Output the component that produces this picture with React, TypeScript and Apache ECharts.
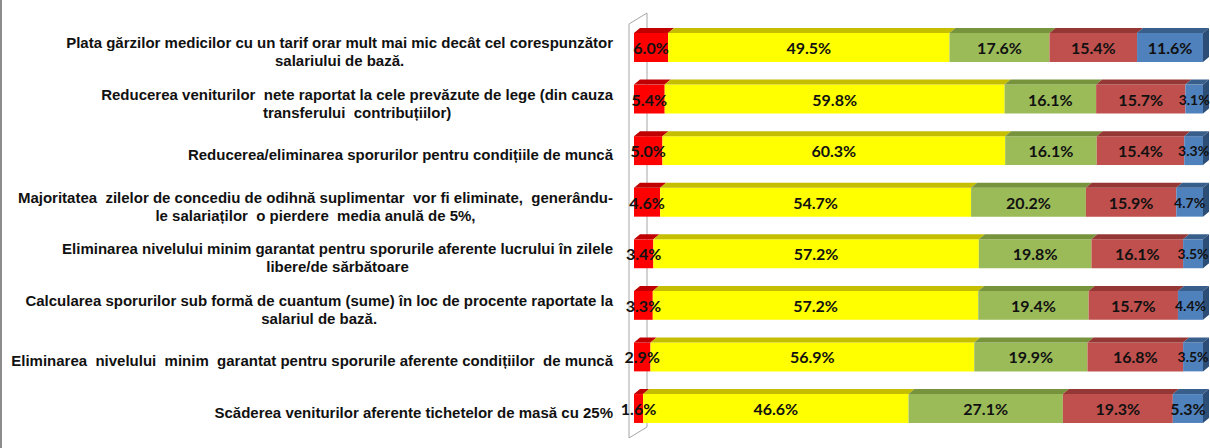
import React, { useEffect, useRef } from "react";
import * as echarts from "echarts";

const categories: string[][] = [
  ["Plata gărzilor medicilor cu un tarif orar mult mai mic decât cel corespunzător", "salariului de bază."],
  ["Reducerea veniturilor  nete raportat la cele prevăzute de lege (din cauza", "transferului  contribuțiilor)"],
  ["Reducerea/eliminarea sporurilor pentru condițiile de muncă"],
  ["Majoritatea  zilelor de concediu de odihnă suplimentar  vor fi eliminate,  generându-", "le salariaților  o pierdere  media anulă de 5%,"],
  ["Eliminarea nivelului minim garantat pentru sporurile aferente lucrului în zilele", "libere/de sărbătoare"],
  ["Calcularea sporurilor sub formă de cuantum (sume) în loc de procente raportate la", "salariul de bază."],
  ["Eliminarea  nivelului  minim  garantat pentru sporurile aferente condițiilor  de muncă"],
  ["Scăderea veniturilor aferente tichetelor de masă cu 25%"],
];

const seriesRed = [6.0, 5.4, 5.0, 4.6, 3.4, 3.3, 2.9, 1.6];
const seriesYellow = [49.5, 59.8, 60.3, 54.7, 57.2, 57.2, 56.9, 46.6];
const seriesGreen = [17.6, 16.1, 16.1, 20.2, 19.8, 19.4, 19.9, 27.1];
const seriesDarkRed = [15.4, 15.7, 15.4, 15.9, 16.1, 15.7, 16.8, 19.3];
const seriesBlue = [11.6, 3.1, 3.3, 4.7, 3.5, 4.4, 3.5, 5.3];

const allSeries = [seriesRed, seriesYellow, seriesGreen, seriesDarkRed, seriesBlue];
const frontColors = ["#FF0000", "#FFFF00", "#9BBB59", "#C0504D", "#4F81BD"];
const topColors = ["#C00000", "#C4BD00", "#77933C", "#953735", "#385E8C"];
const sideColor = "#2C4D75";

export default function App() {
  const ref = useRef<HTMLDivElement>(null);
  useEffect(() => {
    if (!ref.current) return;
    const chart = echarts.init(ref.current, null, { renderer: "svg" });
    const totals = categories.map((_, i) => allSeries.reduce((s, arr) => s + arr[i], 0));
    const dx = 6;
    const dy = 5;
    const series = allSeries.map((arr, si) => {
      const data = arr.map((v, i) => {
        let start = 0;
        for (let k = 0; k < si; k++) start += allSeries[k][i];
        const s = (start / totals[i]) * 100;
        const e = ((start + v) / totals[i]) * 100;
        return [s, e, i, v];
      });
      return {
        type: "custom",
        name: "s" + si,
        encode: { x: [0, 1], y: 2 },
        data,
        renderItem: (params: any, api: any) => {
          const s = api.value(0);
          const e = api.value(1);
          const cat = api.value(2);
          const v = api.value(3);
          const p0 = api.coord([s, cat]);
          const p1 = api.coord([e, cat]);
          const band = api.size([0, 1])[1];
          const h = band * 0.56;
          const yTop = p0[1] - h / 2;
          const x0 = p0[0];
          const x1 = p1[0];
          const children: any[] = [
            { type: "rect", shape: { x: x0, y: yTop, width: x1 - x0, height: h }, style: { fill: frontColors[si] } },
            {
              type: "polygon",
              shape: { points: [[x0, yTop], [x1, yTop], [x1 + dx, yTop - dy], [x0 + dx, yTop - dy]] },
              style: { fill: topColors[si] },
            },
          ];
          if (si === allSeries.length - 1) {
            children.push({
              type: "polygon",
              shape: { points: [[x1, yTop], [x1 + dx, yTop - dy], [x1 + dx, yTop + h - dy], [x1, yTop + h]] },
              style: { fill: sideColor },
            });
          }
          const small = si === allSeries.length - 1 && v < 5;
          children.push({
            type: "text",
            z2: 100,
            style: {
              text: v.toFixed(1) + "%",
              x: (x0 + x1) / 2,
              y: p0[1],
              align: "center",
              verticalAlign: "middle",
              fontFamily: "Lato",
              fontWeight: "bold",
              fontSize: small ? 14 : 16,
              fill: "#111",
            },
          });
          return { type: "group", children };
        },
      };
    });

    chart.setOption({
      animation: false,
      grid: { left: 634, right: 7, top: 21.7, bottom: 13.7, containLabel: false, outerBoundsMode: "none" },
      xAxis: { type: "value", min: 0, max: 100, show: false },
      yAxis: {
        type: "category",
        inverse: true,
        data: categories.map((c) => c.join("\n")),
        axisLine: { show: false },
        axisTick: { show: false },
        splitLine: { show: false },
        axisLabel: {
          align: "right",
          margin: 21,
          padding: [8, 0, 0, 0],
          formatter: (val: string) => val.split("\n").map((l) => `{c|${l}}`).join("\n"),
          rich: {
            c: {
              align: "center",
              fontFamily: "Liberation Sans",
              fontWeight: "bold",
              fontSize: 15,
              lineHeight: 18,
              color: "#111",
            },
          },
        },
      },
      graphic: [
        {
          type: "polyline",
          z: 0,
          shape: { points: [[629, 24], [629, 438], [647, 427], [647, 13], [629, 24]] },
          style: { stroke: "#A6A6A6", lineWidth: 1, fill: "none" },
        },
        {
          type: "line",
          z: 0,
          shape: { x1: 1, y1: 0, x2: 1, y2: 448 },
          style: { stroke: "#8C8C8C", lineWidth: 2 },
        },
      ],
      series,
    });
    return () => chart.dispose();
  }, []);
  return (
    <div
      ref={ref}
      style={{ position: "fixed", left: 0, top: 0, width: 1210, height: 448, background: "#fff" }}
    />
  );
}
